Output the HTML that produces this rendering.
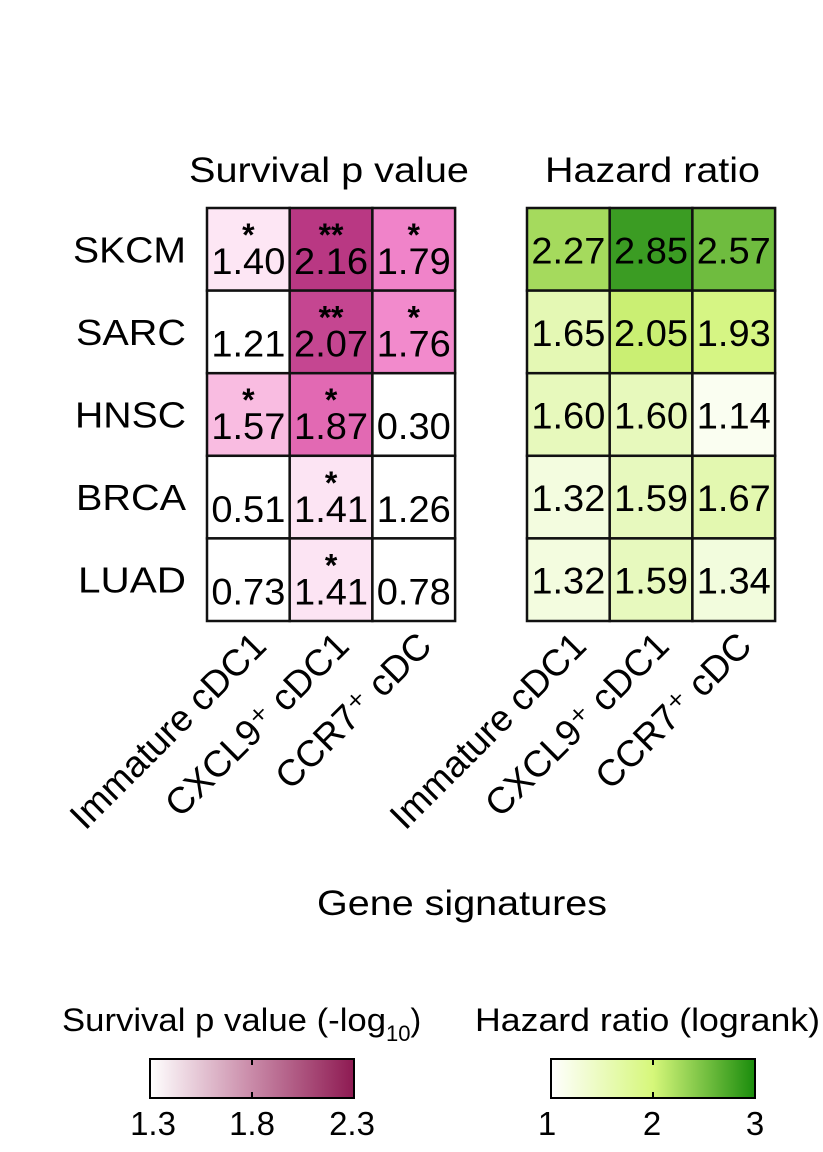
<!DOCTYPE html>
<html><head><meta charset="utf-8"><style>body{margin:0;background:#fff}svg{display:block;font-family:"Liberation Sans",Arial,sans-serif}</style></head>
<body>
<svg id="c" width="823" height="1152" viewBox="0 0 823 1152">
<defs>
<linearGradient id="gp" x1="0" x2="1"><stop offset="0" stop-color="#fff"/><stop offset="0.5" stop-color="#c98aa8"/><stop offset="1" stop-color="#8e1a52"/></linearGradient>
<linearGradient id="gg" x1="0" x2="1"><stop offset="0" stop-color="#fff"/><stop offset="0.5" stop-color="#d6f77a"/><stop offset="1" stop-color="#1a8c0c"/></linearGradient>
</defs>
<text x="189" y="182" font-size="35" textLength="280" lengthAdjust="spacingAndGlyphs">Survival p value</text>
<text x="545" y="182" font-size="35" textLength="215" lengthAdjust="spacingAndGlyphs">Hazard ratio</text>
<g id="cells"></g>
<text x="317" y="915" font-size="35" textLength="290" lengthAdjust="spacingAndGlyphs">Gene signatures</text>
<text x="62" y="1031" font-size="32"><tspan textLength="324" lengthAdjust="spacingAndGlyphs">Survival p value (-log</tspan><tspan font-size="22" dy="10">10</tspan><tspan dy="-10">)</tspan></text>
<text x="475" y="1031" font-size="32" textLength="345" lengthAdjust="spacingAndGlyphs">Hazard ratio (logrank)</text>
<g>
<rect x="150" y="1059" width="204" height="39" fill="url(#gp)" stroke="#000" stroke-width="2"/>
<line x1="252" y1="1059" x2="252" y2="1065" stroke="#000" stroke-width="2"/><line x1="252" y1="1092" x2="252" y2="1098" stroke="#000" stroke-width="2"/>
<text x="153" y="1135" font-size="33" text-anchor="middle">1.3</text><text x="252" y="1135" font-size="33" text-anchor="middle">1.8</text><text x="352" y="1135" font-size="33" text-anchor="middle">2.3</text>
</g>
<g>
<rect x="551" y="1059" width="204" height="39" fill="url(#gg)" stroke="#000" stroke-width="2"/>
<line x1="653" y1="1059" x2="653" y2="1065" stroke="#000" stroke-width="2"/><line x1="653" y1="1092" x2="653" y2="1098" stroke="#000" stroke-width="2"/>
<text x="547" y="1135" font-size="33" text-anchor="middle">1</text><text x="652" y="1135" font-size="33" text-anchor="middle">2</text><text x="755" y="1135" font-size="33" text-anchor="middle">3</text>
</g>
</svg>
<script>
const rows=["SKCM","SARC","HNSC","BRCA","LUAD"];
const cols=["Immature cDC1","CXCL9⁺ cDC1","CCR7⁺ cDC"];
const pvals=[[1.40,2.16,1.79],[1.21,2.07,1.76],[1.57,1.87,0.30],[0.51,1.41,1.26],[0.73,1.41,0.78]];
const stars=[["*","**","*"],["","**","*"],["*","*",""],["","*",""],["","*",""]];
const hazards=[[2.27,2.85,2.57],[1.65,2.05,1.93],[1.60,1.60,1.14],[1.32,1.59,1.67],[1.32,1.59,1.34]];
const NS="http://www.w3.org/2000/svg";
const svg=document.getElementById('c');const g=document.getElementById('cells');
const top0=208,rh=82.6,cw=82.7,lx=207,rx=527;
function lerp(a,b,t){return a.map((v,i)=>Math.round(v+(b[i]-v)*t));}
function scale(stops,v){if(v<=stops[0][0])return stops[0][1];for(let i=1;i<stops.length;i++){if(v<=stops[i][0]){const t=(v-stops[i-1][0])/(stops[i][0]-stops[i-1][0]);return lerp(stops[i-1][1],stops[i][1],t);}}return stops[stops.length-1][1];}
const pStops=[[1.3,[255,255,255]],[1.6,[248,180,222]],[1.8,[240,128,200]],[1.9,[220,95,170]],[2.2,[180,50,125]]];
const hStops=[[1,[255,255,255]],[1.5,[236,250,205]],[2,[210,244,120]],[2.3,[160,215,90]],[2.6,[105,185,60]],[2.9,[50,150,30]]];
function y(r){return top0+r*rh;}
function x(left,c){return left+c*cw;}
function mk(tag,attrs){const e=document.createElementNS(NS,tag);for(const k in attrs)e.setAttribute(k,attrs[k]);return e;}
const rowW=[113,110,111,110,108];
rows.forEach((rn,r)=>{
  const t=mk('text',{x:186-rowW[r],y:y(r)+rh/2+13,'font-size':36,textLength:rowW[r],lengthAdjust:'spacingAndGlyphs'});t.textContent=rn;
  
  
  svg.appendChild(t);
  cols.forEach((cn,c)=>{
    [[lx,pvals,pStops,true],[rx,hazards,hStops,false]].forEach(([L,data,st,isP])=>{
      const v=data[r][c];const col=scale(st,v);
      const rc=mk('rect',{x:x(L,c),y:y(r),width:cw,height:rh,fill:`rgb(${col})`,stroke:'#111','stroke-width':2.5});
      
      
      g.appendChild(rc);
      const tx=mk('text',{x:x(L,c)+cw/2,y:y(r)+(isP?66:rh/2+14),'font-size':37,'text-anchor':'middle',textLength:74,lengthAdjust:'spacingAndGlyphs'});tx.textContent=v.toFixed(2);
      
      
      g.appendChild(tx);
      if(isP&&stars[r][c]){const s=mk('text',{x:x(L,c)+cw/2,y:y(r)+38,'font-size':32,'font-weight':'bold','text-anchor':'middle'});s.textContent=stars[r][c];
      
      
      g.appendChild(s);}
    });
  });
});
cols.forEach((cn,c)=>{
  [lx,rx].forEach(L=>{
    const cx=x(L,c)+cw/2+20, cy=648;
    const t=mk('text',{x:cx,y:cy,'font-size':37,'text-anchor':'end',transform:`rotate(-45 ${cx} ${cy})`});t.textContent=cn;
    
    
    svg.appendChild(t);
  });
});
</script>
</body></html>
